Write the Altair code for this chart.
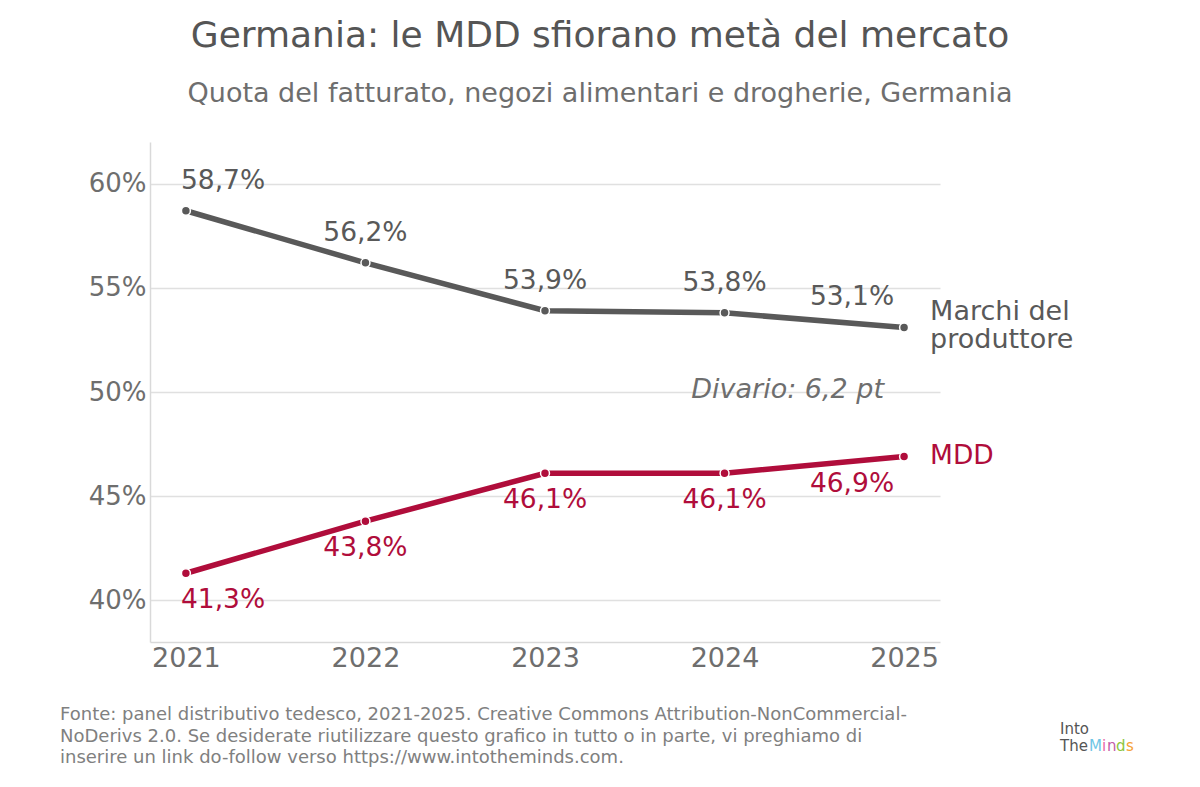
import altair as alt
import pandas as pd

years = [2021, 2022, 2023, 2024, 2025]
marchi = [58.7, 56.2, 53.9, 53.8, 53.1]
mdd = [41.3, 43.8, 46.1, 46.1, 46.9]
series_names = ["Marchi del produttore", "MDD"]
y_ticks = [40, 45, 50, 55, 60]

title_text = "Germania: le MDD sfiorano metà del mercato"
subtitle_text = "Quota del fatturato, negozi alimentari e drogherie, Germania"
footer_lines = [
    "Fonte: panel distributivo tedesco, 2021-2025. Creative Commons Attribution-NonCommercial-",
    "NoDerivs 2.0. Se desiderate riutilizzare questo grafico in tutto o in parte, vi preghiamo di",
    "inserire un link do-follow verso https://www.intotheminds.com.",
]

GRAY = "#595959"
RED = "#b00d3b"
FONT = "DejaVu Sans"

rows = []
for y, a, b in zip(years, marchi, mdd):
    rows.append({"year": y, "value": a, "series": series_names[0]})
    rows.append({"year": y, "value": b, "series": series_names[1]})
df = pd.DataFrame(rows)

W, H = 790, 500
xscale = alt.Scale(domain=[2020.8, 2025.2], nice=False, zero=False)
yscale = alt.Scale(domain=[38, 62], nice=False, zero=False)
color = alt.Color("series:N", scale=alt.Scale(domain=series_names, range=[GRAY, RED]), legend=None)

base = alt.Chart(df).encode(
    x=alt.X("year:Q", scale=xscale,
            axis=alt.Axis(values=years, format="d", title=None, grid=False, ticks=False,
                          labelFontSize=27, labelColor="#6e6e6e", labelPadding=3,
                          domainColor="#d9d9d9", domainWidth=1.5, labelFont=FONT)),
    y=alt.Y("value:Q", scale=yscale,
            axis=alt.Axis(values=y_ticks, title=None, ticks=False, labelExpr="datum.value + '%'",
                          labelFontSize=26, labelColor="#6e6e6e", labelPadding=4,
                          domainColor="#d9d9d9", domainWidth=1.5, gridColor="#e0e0e0",
                          gridWidth=1.5, labelFont=FONT)),
    color=color,
)

lines = base.mark_line(strokeWidth=5.5, strokeCap="round")
points = base.mark_point(filled=True, size=80, opacity=1, stroke="white", strokeWidth=1.5).encode(
    fill=color
)

lab = base.transform_calculate(
    label="replace(format(datum.value, '.1f'), '.', ',') + '%'"
)

def value_labels(series, dy):
    s = lab.transform_filter(alt.datum.series == series)
    first = s.transform_filter(alt.datum.year == years[0]).mark_text(
        align="left", dx=-5, dy=dy, fontSize=26.5, font=FONT, baseline="middle")
    mid = s.transform_filter((alt.datum.year > years[0]) & (alt.datum.year < years[-1])).mark_text(
        align="center", dy=dy, fontSize=26.5, font=FONT, baseline="middle")
    last = s.transform_filter(alt.datum.year == years[-1]).mark_text(
        align="right", dx=-10, dy=dy, fontSize=26.5, font=FONT, baseline="middle")
    return [c.encode(text="label:N") for c in (first, mid, last)]

labels_top = value_labels(series_names[0], -30)
labels_bot = value_labels(series_names[1], 27)

end_top = alt.Chart(pd.DataFrame({
    "year": [years[-1]], "value": [marchi[-1]], "series": [series_names[0]],
    "name": [["Marchi del", "produttore"]]})).mark_text(
    align="left", dx=26, dy=-15, fontSize=27, font=FONT, baseline="middle", lineHeight=28
).encode(x=alt.X("year:Q", scale=xscale), y=alt.Y("value:Q", scale=yscale), text="name", color=color)

end_bot = alt.Chart(pd.DataFrame({
    "year": [years[-1]], "value": [mdd[-1]], "series": [series_names[1]],
    "name": ["MDD"]})).mark_text(
    align="left", dx=26, dy=-1, fontSize=26.5, font=FONT, baseline="middle"
).encode(x=alt.X("year:Q", scale=xscale), y=alt.Y("value:Q", scale=yscale), text="name:N", color=color)

gap_df = pd.DataFrame({
    "year": [years[-1]],
    "value": [(marchi[-1] + mdd[-1]) / 2],
    "gap": [marchi[-1] - mdd[-1]],
})
gap_label = alt.Chart(gap_df).transform_calculate(
    t="'Divario: ' + replace(format(datum.gap, '.1f'), '.', ',') + ' pt'"
).mark_text(align="right", dx=-20, dy=-2, fontSize=27, font=FONT, fontStyle="italic",
            color="#6e6e6e", baseline="middle").encode(
    x=alt.X("year:Q", scale=xscale), y=alt.Y("value:Q", scale=yscale), text="t:N")

footer_df = pd.DataFrame({"t": [footer_lines]})
footer = alt.Chart(footer_df).mark_text(align="left", baseline="middle", fontSize=18, font=FONT,
                                        color="#808080", lineHeight=21.5).encode(
    x=alt.value(-90), y=alt.value(573), text="t")

logo_parts = [
    ("Into", "#555555", 910, 587),
    ("The", "#555555", 910, 604),
    ("M", "#6ec6e6", 939, 604),
    ("i", "#e86aa6", 952, 604),
    ("n", "#c25ca8", 957, 604),
    ("d", "#8cc63f", 966, 604),
    ("s", "#f5a133", 976, 604),
]
logo_layers = []
for t, c, px, py in logo_parts:
    logo_layers.append(
        alt.Chart(pd.DataFrame({"t": [t]})).mark_text(
            align="left", baseline="middle", fontSize=15, font=FONT, color=c
        ).encode(x=alt.value(px), y=alt.value(py), text="t:N")
    )

chart = alt.layer(
    lines, points, *labels_top, *labels_bot, end_top, end_bot, gap_label, footer, *logo_layers
).properties(
    width=W, height=H,
    title=alt.TitleParams(
        text=title_text, subtitle=subtitle_text, anchor="middle", frame="group", dx=55,
        fontSize=36, color="#555555", fontWeight="normal", font=FONT,
        subtitleFontSize=27, subtitleColor="#6e6e6e", subtitleFont=FONT,
        subtitlePadding=26, offset=34,
    ),
    autosize=alt.AutoSizeParams(type="none"),
    padding={"left": 142, "top": 134, "right": 252, "bottom": 137},
).configure_view(stroke=None).configure_axis(labelFont=FONT)

chart.save("out.html", embed_options={"renderer": "svg", "actions": False})
